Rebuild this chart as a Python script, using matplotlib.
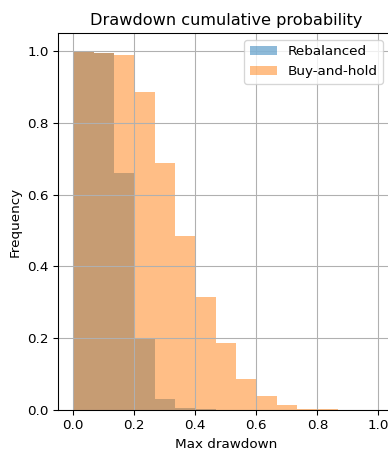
import numpy as np
import matplotlib
matplotlib.use("Agg")
import matplotlib.pyplot as plt

# Bin edges (15 bins from 0 to 1)
bin_edges = [0.0, 1/15, 2/15, 3/15, 4/15, 5/15, 6/15, 7/15, 8/15, 9/15,
             10/15, 11/15, 12/15, 13/15, 14/15, 1.0]

# Reverse cumulative fractions per bin
rebalanced = [1.0, 0.994, 0.659, 0.201, 0.031, 0.006, 0.002, 0.0, 0.0, 0.0,
              0.0, 0.0, 0.0, 0.0, 0.0]
buy_and_hold = [1.0, 0.995, 0.989, 0.886, 0.687, 0.486, 0.314, 0.186, 0.085,
                0.040, 0.014, 0.004, 0.002, 0.0, 0.0]

series_names = ["Rebalanced", "Buy-and-hold"]

DPI = 97
W, H = 388, 455
fig = plt.figure(figsize=(W / DPI, H / DPI), dpi=DPI)
ax = fig.add_axes([58 / W, (H - 410) / H, (393.6 - 58) / W, (410 - 33) / H])

left_edges = bin_edges[:-1]
ax.hist(left_edges, bins=bin_edges, weights=rebalanced, alpha=0.5,
        color="C0", label=series_names[0])
ax.hist(left_edges, bins=bin_edges, weights=buy_and_hold, alpha=0.5,
        color="C1", label=series_names[1])

ax.set_xlim(-0.05, 1.05)
ax.set_ylim(0, 1.05)
ax.set_xticks([0.0, 0.2, 0.4, 0.6, 0.8, 1.0])
ax.set_yticks([0.0, 0.2, 0.4, 0.6, 0.8, 1.0])
ax.grid(True)
ax.set_title("Drawdown cumulative probability")
ax.set_xlabel("Max drawdown")
ax.set_ylabel("Frequency")
ax.legend(loc="upper right", bbox_to_anchor=(383 / W, (H - 40) / H),
          bbox_transform=fig.transFigure, borderaxespad=0)

fig.savefig("out.png", dpi=DPI)
